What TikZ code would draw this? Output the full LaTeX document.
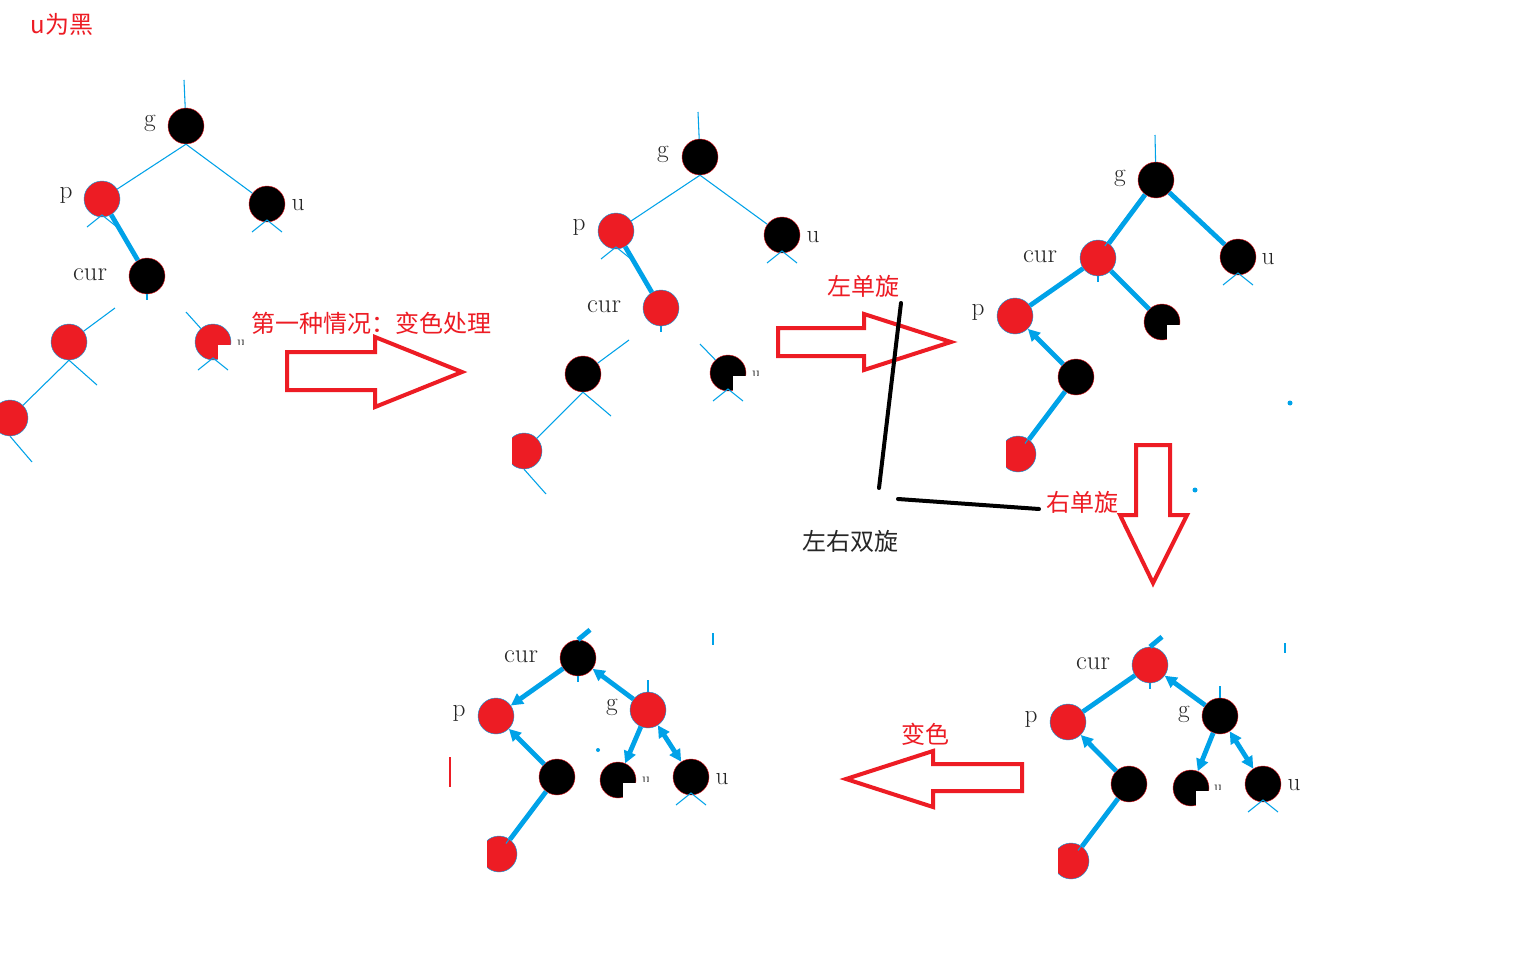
\documentclass[tikz,border=0pt]{standalone}
\usepackage{fontspec}
\newfontfamily\cjk{Noto Sans CJK SC}
\usetikzlibrary{arrows.meta,calc}
\definecolor{rd}{HTML}{ED1C24}
\definecolor{bl}{HTML}{00A2E8}
\tikzset{
  bn/.style={circle,fill=black,draw=rd,line width=0.3pt,minimum size=27pt,inner sep=0pt},
  rn/.style={circle,fill=rd,draw=bl,line width=0.3pt,minimum size=27pt,inner sep=0pt},
  lab/.style={font=\fontsize{19}{21}\selectfont,text=black!85},
  labc/.style={font=\fontsize{20}{22}\selectfont,text=black!85},
  thinb/.style={draw=bl,line width=0.8pt},
  thickb/.style={draw=bl,line width=3.6pt},
  tip/.style={-{Triangle[length=9pt,width=9pt]}},
  cjkr/.style={font=\cjk\fontsize{18}{22}\selectfont,text=rd},
  cjkb/.style={font=\cjk\fontsize{18}{22}\selectfont,text=black!85},
  hollow/.style={draw=rd,line width=3pt,line join=miter},
  blk/.style={draw=black,line width=3pt,line cap=round},
  tinyu/.style={font=\fontsize{11}{11}\selectfont,text=black!85,anchor=base}
}
\newcommand\mystub[1]{\draw[thinb] ([shift={(-15,28)}]#1.center) -- ([shift={(0,16)}]#1.center) -- ([shift={(15,28)}]#1.center);}
\newcommand\notch[2]{\fill[white] (#1+5,#2+3) rectangle (#1+20,#2+20);}
\newcommand\tinyu[2]{\begin{scope}\clip (#1-6,#2-9) rectangle (#1+6,#2-2);\node[tinyu] at (#1,#2) {u};\end{scope}}
\begin{document}
\begin{tikzpicture}[x=0.75pt,y=-0.75pt]
\useasboundingbox[fill=white] (0,0) rectangle (1535,974);

% ---------- title ----------
\node[cjkr] (title) at (62,24) {u为黑};

% ---------- tree 1 ----------
\coordinate (t1) at (184,80);
\node[bn] (g1) at (186,126) {};
\node[rn] (p1) at (102,199) {};
\node[bn] (u1) at (267,204) {};
\node[bn] (cur1) at (147,276) {};
\node[rn] (l1) at (69,342) {};
\node[rn] (r1) at (213,342) {};
\notch{213}{342}
\node[rn] (ll1) at (10,418) {};
\node[lab] (lg1) at (150,123) {g};
\node[lab] (lp1) at (66,195) {p};
\node[lab] (lu1) at (298,205) {u};
\node[labc] (lc1) at (90,275) {cur};
\tinyu{241}{346}
\coordinate (c1a) at (115,308);
\coordinate (c1b) at (186,312);
\coordinate (l1s) at (97,385);
\coordinate (ll1s) at (32,462);
\draw[thinb] (t1) -- (g1);
\draw[thinb] (g1.south) -- (p1);
\draw[thinb] (g1.south) -- (u1);
\draw[thickb] (p1) -- (cur1);
\draw[thinb] (c1a) -- (l1);
\draw[thinb] (c1b) -- (r1);
\draw[thinb] (l1.south) -- (ll1);
\draw[thinb] (l1.south) -- (l1s);
\draw[thinb] (ll1.south) -- (ll1s);
\mystub{p1}\mystub{u1}\mystub{r1}
\draw[thinb] (cur1.south) -- ++(0,6);

% ---------- arrow 1 ----------
\node[cjkr] (txt1) at (371,323) {第一种情况：变色处理};
\draw[hollow] (287,352) -- (375,352) -- (375,337) -- (462,372) -- (375,407) -- (375,390) -- (287,390) -- cycle;

% ---------- tree 2 ----------
\coordinate (t2) at (698,112);
\node[bn] (g2) at (700,157) {};
\node[rn] (p2) at (616,231) {};
\node[bn] (u2) at (782,235) {};
\node[rn] (cur2) at (661,308) {};
\node[bn] (l2) at (583,374) {};
\node[bn] (r2) at (728,373) {};
\notch{728}{373}
\begin{scope}
\clip (512,420) rectangle (560,480);
\node[rn] (ll2) at (524,451) {};
\end{scope}
\node[lab] (lg2) at (663,154) {g};
\node[lab] (lp2) at (579,227) {p};
\node[lab] (lu2) at (813,237) {u};
\node[labc] (lc2) at (604,307) {cur};
\tinyu{756}{377}
\coordinate (c2a) at (629,340);
\coordinate (c2b) at (700,344);
\coordinate (l2s) at (611,416);
\coordinate (ll2s) at (546,494);
\draw[thinb] (t2) -- (g2);
\draw[thinb] (g2.south) -- (p2);
\draw[thinb] (g2.south) -- (u2);
\draw[thickb] (p2) -- (cur2);
\draw[thinb] (c2a) -- (l2);
\draw[thinb] (c2b) -- (r2);
\draw[thinb] (l2.south) -- (ll2);
\draw[thinb] (l2.south) -- (l2s);
\draw[thinb] (ll2.south) -- (ll2s);
\mystub{p2}\mystub{u2}\mystub{r2}
\draw[thinb] (cur2.south) -- ++(0,6);

% ---------- arrow 2 + labels ----------
\node[cjkr] (txt2) at (863,286) {左单旋};
\draw[hollow] (778,328) -- (864,328) -- (864,314) -- (951,342) -- (864,370) -- (864,356) -- (778,356) -- cycle;
\coordinate (k1) at (901,303);
\coordinate (k2) at (879,488);
\coordinate (k3) at (898,499);
\coordinate (k4) at (1039,509);
\draw[blk] (k1) -- (k2);
\draw[blk] (k3) -- (k4);
\node[cjkb] (txt3) at (850,541) {左右双旋};
\node[cjkr] (txt4) at (1082,502) {右单旋};
\draw[hollow] (1136,445) -- (1170,445) -- (1170,515) -- (1187,515) -- (1153,583) -- (1120,515) -- (1136,515) -- cycle;

% ---------- tree 3 ----------
\coordinate (t3) at (1155,135);
\node[bn] (g3) at (1156,180) {};
\node[rn] (cur3) at (1098,258) {};
\node[bn] (u3) at (1238,257) {};
\node[rn] (p3) at (1015,316) {};
\node[bn] (n3) at (1162,322) {};
\notch{1162}{322}
\node[bn] (b3) at (1076,377) {};
\begin{scope}
\clip (1006,420) rectangle (1050,480);
\node[rn] (r3) at (1018,454) {};
\end{scope}
\node[lab] (lg3) at (1120,178) {g};
\node[labc] (lc3) at (1040,257) {cur};
\node[lab] (lu3) at (1268,259) {u};
\node[lab] (lp3) at (978,312) {p};
\draw[thinb] (t3) -- (g3);
\draw[thickb] (g3) -- (cur3);
\draw[thinb,transform canvas={shift={(-3pt,-2pt)}}] (g3) -- (cur3);
\draw[thickb] (g3) -- (u3);
\draw[thickb] (cur3) -- (p3);
\draw[thickb] (cur3) -- (n3);
\draw[thickb,tip] (b3) -- (p3);
\draw[thickb] (b3) -- (r3);
\draw[thinb,transform canvas={shift={(-3pt,-3pt)}}] (b3) -- (r3);
\mystub{u3}
\draw[thinb] (cur3.south) -- ++(0,6);
\fill[bl] (1290,403) circle (2.5);
\fill[bl] (1195,490) circle (2.5);

% ---------- arrow 4 ----------
\node[cjkr] (txt5) at (925,734) {变色};
\draw[hollow] (1022,764) -- (933,764) -- (933,751) -- (846,779) -- (933,807) -- (933,791) -- (1022,791) -- cycle;

% ---------- tree 5 ----------
\node[rn] (cur5) at (1150,665) {};
\node[rn] (p5) at (1068,722) {};
\node[bn] (g5) at (1220,716) {};
\node[bn] (b5) at (1129,784) {};
\node[bn] (n5) at (1191,788) {};
\notch{1191}{788}
\node[bn] (u5) at (1263,784) {};
\begin{scope}
\clip (1058,830) rectangle (1100,890);
\node[rn] (r5) at (1071,861) {};
\end{scope}
\node[labc] (lc5) at (1093,664) {cur};
\node[lab] (lp5) at (1031,719) {p};
\node[lab] (lg5) at (1184,714) {g};
\node[lab] (lu5) at (1294,785) {u};
\tinyu{1218}{791}
\draw[thickb] (cur5) -- (p5);
\draw[thickb,tip] (g5) -- (cur5);
\draw[thickb,tip] (b5) -- (p5);
\draw[thickb] (b5) -- (r5);
\draw[thinb,transform canvas={shift={(-3pt,-3pt)}}] (b5) -- (r5);
\draw[thickb,tip] (g5) -- (n5);
\draw[thickb,{Triangle[length=9pt,width=9pt]}-{Triangle[length=9pt,width=9pt]}] (g5) -- (u5);
\draw[thickb] (cur5.north) -- ++(12,-10);
\draw[thinb] (cur5.south) -- ++(0,6);
\draw[thinb] (g5.north) -- ++(0,-12);
\mystub{u5}
\draw[thinb] (1285,643) -- (1285,653);

% ---------- tree 4 ----------
\node[bn] (cur4) at (578,658) {};
\node[rn] (p4) at (496,716) {};
\node[rn] (g4) at (648,710) {};
\node[bn] (b4) at (557,777) {};
\node[bn] (n4) at (618,780) {};
\notch{618}{780}
\node[bn] (u4) at (691,777) {};
\begin{scope}
\clip (487,825) rectangle (530,885);
\node[rn] (r4) at (499,854) {};
\end{scope}
\node[labc] (lc4) at (521,657) {cur};
\node[lab] (lp4) at (459,713) {p};
\node[lab] (lg4) at (612,707) {g};
\node[lab] (lu4) at (722,779) {u};
\tinyu{646}{783}
\draw[thickb,tip] (cur4) -- (p4);
\draw[thickb,tip] (g4) -- (cur4);
\draw[thickb,tip] (b4) -- (p4);
\draw[thickb] (b4) -- (r4);
\draw[thinb,transform canvas={shift={(-3pt,-3pt)}}] (b4) -- (r4);
\draw[thickb,tip] (g4) -- (n4);
\draw[thickb,{Triangle[length=9pt,width=9pt]}-{Triangle[length=9pt,width=9pt]}] (g4) -- (u4);
\draw[thickb] (cur4.north) -- ++(12,-10);
\draw[thinb] (cur4.south) -- ++(0,6);
\draw[thinb] (g4.north) -- ++(0,-12);
\mystub{u4}
\draw[thinb] (713,633) -- (713,645);
\fill[bl] (598,750) circle (2);
\draw[rd,line width=2pt] (450,757) -- (450,787);
\end{tikzpicture}
\end{document}
